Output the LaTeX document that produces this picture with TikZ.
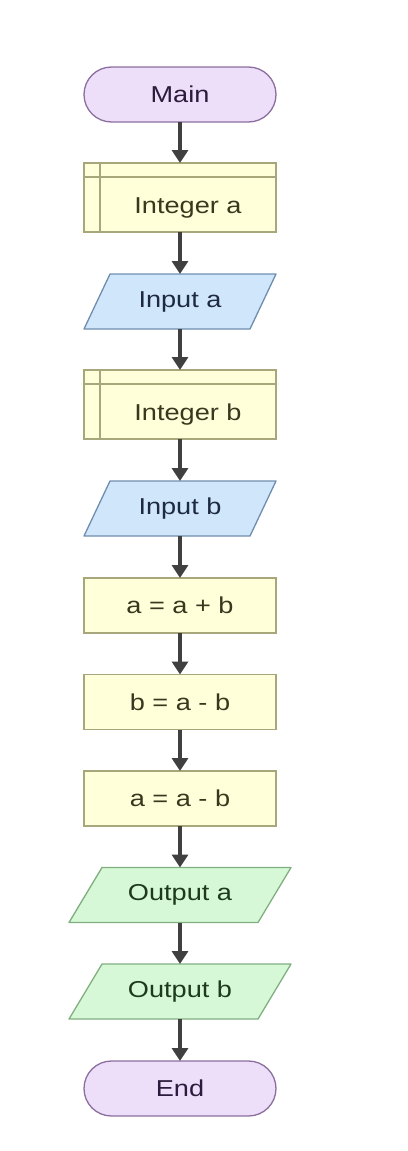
\documentclass[tikz,border=0pt]{standalone}
\usepackage{fontspec}
\setmainfont[FakeStretch=1.18]{Liberation Sans}
\usetikzlibrary{arrows.meta,backgrounds}
\definecolor{termfill}{HTML}{EDDFFA}
\definecolor{termdraw}{HTML}{8C6E9E}
\definecolor{termtext}{HTML}{2C1B3C}
\definecolor{procfill}{HTML}{FFFFDA}
\definecolor{procdraw}{HTML}{A8A77B}
\definecolor{proctext}{HTML}{38381E}
\definecolor{infill}{HTML}{D0E6FB}
\definecolor{indraw}{HTML}{6F8DAF}
\definecolor{intext}{HTML}{1D2A40}
\definecolor{outfill}{HTML}{D6F8D6}
\definecolor{outdraw}{HTML}{80AE80}
\definecolor{outtext}{HTML}{1E3A1E}
\definecolor{arr}{HTML}{404040}
\tikzset{
  base/.style={draw, line width=1.3pt, outer sep=0pt, inner sep=0pt, font=\fontsize{23}{27}\selectfont},
  term/.style={base, fill=termfill, draw=termdraw, text=termtext, minimum width=192pt, minimum height=55pt, rounded corners=27.5pt},
  proc/.style={base, fill=procfill, draw=procdraw, text=proctext, minimum width=192pt, minimum height=55pt},
  subr/.style={base, fill=procfill, draw=procdraw, minimum width=192pt, minimum height=69pt},
  subrtext/.style={font=\fontsize{23}{27}\selectfont, text=proctext},
  inp/.style={outer sep=0pt, inner sep=0pt, text=intext, font=\fontsize{23}{27}\selectfont, minimum width=192pt, minimum height=55pt},
  outp/.style={outer sep=0pt, inner sep=0pt, text=outtext, font=\fontsize{23}{27}\selectfont, minimum width=222pt, minimum height=55pt},
  inshape/.style={fill=infill, draw=indraw, line width=1.3pt, line join=round},
  outshape/.style={fill=outfill, draw=outdraw, line width=1.3pt, line join=round},
  flow/.style={draw=arr, line width=4pt, -{Triangle[length=13pt,width=16pt]}}
}
\begin{document}
\begin{tikzpicture}[x=1pt,y=1pt]
\useasboundingbox (0,0) rectangle (407,-1151);
\node[term] (main) at (180,-94.5) {Main};
\node[subr] (ia) at (180,-197.5) {};
\draw[procdraw, line width=1.3pt] ([xshift=16pt]ia.north west) -- ([xshift=16pt]ia.south west);
\draw[procdraw, line width=1.3pt] ([yshift=-14pt]ia.north west) -- ([yshift=-14pt]ia.north east);
\node[subrtext] (iat) at (188,-208) {Integer a};
\node[inp] (ina) at (180,-301.5) {Input a};
\node[subr] (ib) at (180,-404.5) {};
\draw[procdraw, line width=1.3pt] ([xshift=16pt]ib.north west) -- ([xshift=16pt]ib.south west);
\draw[procdraw, line width=1.3pt] ([yshift=-14pt]ib.north west) -- ([yshift=-14pt]ib.north east);
\node[subrtext] (ibt) at (188,-415) {Integer b};
\node[inp] (inb) at (180,-508.5) {Input b};
\node[proc] (s1) at (180,-605.5) {a = a + b};
\node[proc] (s2) at (180,-702) {b = a - b};
\node[proc] (s3) at (180,-798.5) {a = a - b};
\node[outp] (oa) at (180,-895) {Output a};
\node[outp] (ob) at (180,-991.5) {Output b};
\node[term] (end) at (180,-1088.5) {End};
\begin{scope}[on background layer]
\foreach \n in {ina,inb}
  \draw[inshape] ([xshift=26pt]\n.north west) -- (\n.north east) -- ([xshift=-26pt]\n.south east) -- (\n.south west) -- cycle;
\foreach \n in {oa,ob}
  \draw[outshape] ([xshift=33pt]\n.north west) -- (\n.north east) -- ([xshift=-33pt]\n.south east) -- (\n.south west) -- cycle;
\end{scope}
\draw[flow] (main.south) -- (ia.north);
\draw[flow] (ia.south) -- (ina.north);
\draw[flow] (ina.south) -- (ib.north);
\draw[flow] (ib.south) -- (inb.north);
\draw[flow] (inb.south) -- (s1.north);
\draw[flow] (s1.south) -- (s2.north);
\draw[flow] (s2.south) -- (s3.north);
\draw[flow] (s3.south) -- (oa.north);
\draw[flow] (oa.south) -- (ob.north);
\draw[flow] (ob.south) -- (end.north);
\end{tikzpicture}
\end{document}
